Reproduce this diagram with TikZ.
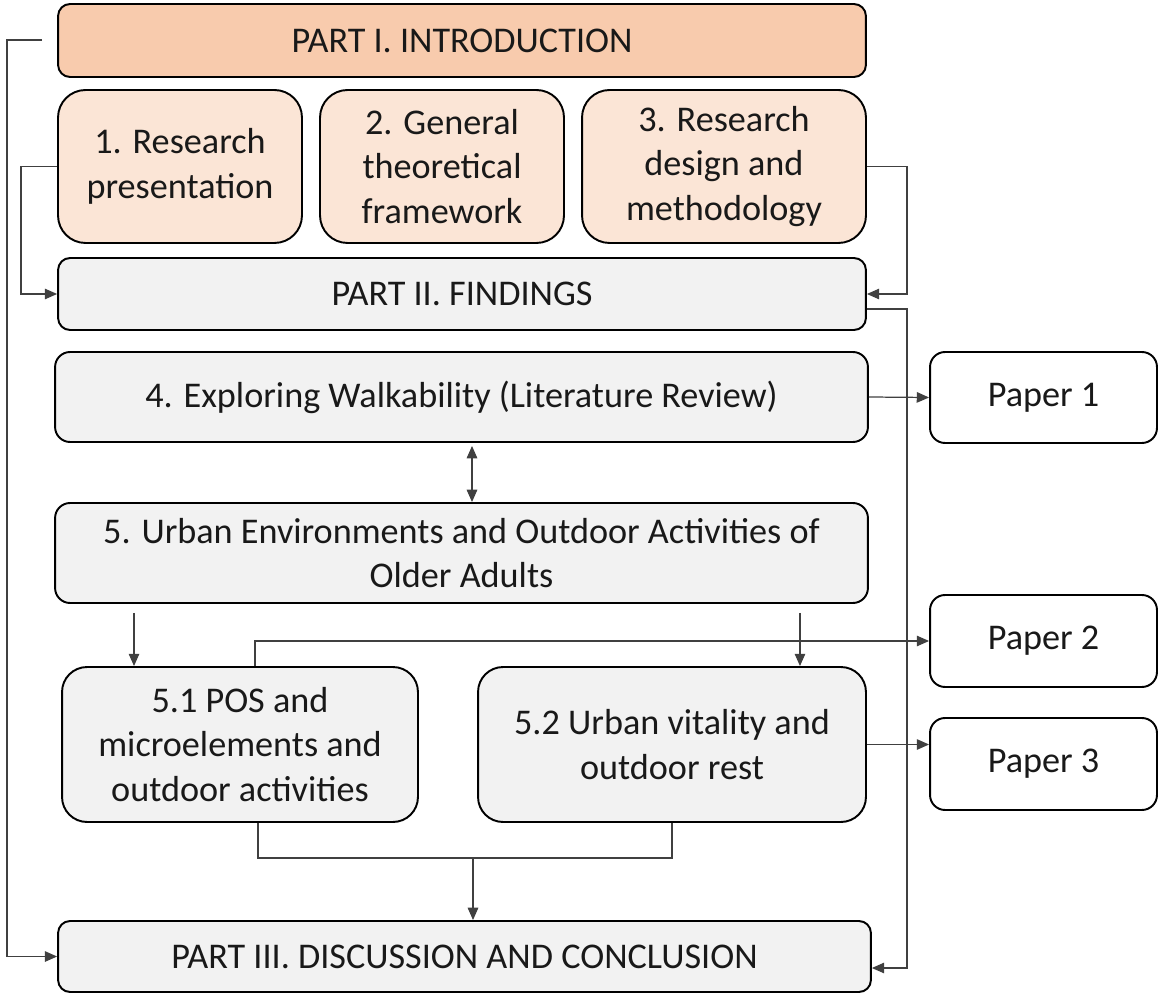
\documentclass[tikz,border=0pt]{standalone}
\usepackage{fontspec}
\setmainfont{Carlito}
\usepackage{tikz}
\usetikzlibrary{arrows.meta,calc}
\definecolor{peach}{HTML}{F8CBAD}
\definecolor{lightpeach}{HTML}{FBE5D6}
\definecolor{lightgrey}{HTML}{F2F2F2}
\definecolor{linegrey}{HTML}{404040}

\begin{document}
\begin{tikzpicture}[x = 0.02cm, y = -0.02cm,
    box/.style = {draw = black, line width = 1.1pt, align = center, inner sep = 0pt,
        font = \fontsize{20.6}{25.3}\selectfont, text = black!90},
    link/.style = {draw = linegrey, line width = 0.7pt},
    arr/.style = {link, -{Triangle[length = 7pt, width = 6pt]}}]
    \useasboundingbox (0, 0) rectangle (1159, 996);
    % PART I
    \node[box, fill = peach, rounded corners = 0.24cm, minimum width = 16.16cm, minimum height = 1.46cm] (part1) at (462, 40.5) {PART I. INTRODUCTION};
    \node[box, fill = lightpeach, rounded corners = 0.55cm, minimum width = 4.88cm, minimum height = 3.06cm] (res1) at (180, 166.5) {1. Research\\presentation};
    \node[box, fill = lightpeach, rounded corners = 0.55cm, minimum width = 4.88cm, minimum height = 3.06cm] (res2) at (442, 166.5) {2. General\\theoretical\\framework};
    \node[box, fill = lightpeach, rounded corners = 0.55cm, minimum width = 5.68cm, minimum height = 3.06cm] (res3) at (724, 166.5) {3. Research\\design and\\methodology};
    % PART II
    \node[box, fill = lightgrey, rounded corners = 0.24cm, minimum width = 16.16cm, minimum height = 1.44cm] (part2) at (462, 294) {PART II. FINDINGS};
    \node[box, fill = lightgrey, rounded corners = 0.3cm, minimum width = 16.26cm, minimum height = 1.80cm] (ch4) at (461.5, 397) {4. Exploring Walkability (Literature Review)};
    \node[box, fill = lightgrey, rounded corners = 0.3cm, minimum width = 16.26cm, minimum height = 2.0cm] (ch5) at (461.5, 553) {5. Urban Environments and Outdoor Activities of\\Older Adults};
    \node[box, fill = lightgrey, rounded corners = 0.5cm, minimum width = 7.12cm, minimum height = 3.10cm] (sec51) at (240, 744.5) {5.1 POS and\\microelements and\\outdoor activities};
    \node[box, fill = lightgrey, rounded corners = 0.5cm, minimum width = 7.76cm, minimum height = 3.10cm] (sec52) at (672, 744.5) {5.2 Urban vitality and\\outdoor rest};
    % PART III
    \node[box, fill = lightgrey, rounded corners = 0.24cm, minimum width = 16.26cm, minimum height = 1.42cm] (part3) at (464.5, 956.5) {PART III. DISCUSSION AND CONCLUSION};
    % PAPERS
    \node[box, fill = white, rounded corners = 0.3cm, minimum width = 4.54cm, minimum height = 1.82cm] (paper1) at (1043.5, 397.5) {Paper 1};
    \node[box, fill = white, rounded corners = 0.3cm, minimum width = 4.54cm, minimum height = 1.84cm] (paper2) at (1043.5, 641) {Paper 2};
    \node[box, fill = white, rounded corners = 0.3cm, minimum width = 4.54cm, minimum height = 1.84cm] (paper3) at (1043.5, 764) {Paper 3};
    % CONNECTORS
    \coordinate (loop) at (42, 40);
    \draw[arr] (loop) -- ++(-35, 0) |- (part3.west);
    \draw[arr] (res1.west) -- ++(-36, 0) |- (part2.west);
    \draw[arr] (res3.east) -- ++(40, 0) |- (part2.east);
    \draw[arr] ($(part2.east) + (0, 15)$) -- ++(40, 0) |- ($(part3.east) + (0, 11.5)$);
    \draw[arr] (ch4.east) -- (paper1.west);
    \draw[link, {Triangle[length = 7pt, width = 6pt]}-{Triangle[length = 7pt, width = 6pt]}, shorten < = 0.06cm] ([xshift = 0.21cm]ch4.south) -- ([xshift = 0.21cm]ch5.north);
    \draw[arr, shorten < = 0.18cm] ([xshift = -2.12cm]sec51.north |- ch5.south) -- ([xshift = -2.12cm]sec51.north);
    \draw[arr, shorten < = 0.18cm] ([xshift = 2.56cm]sec52.north |- ch5.south) -- ([xshift = 2.56cm]sec52.north);
    \draw[arr] ([xshift = 0.3cm]sec51.north) |- (paper2.west);
    \draw[arr] (sec52.east) -- (sec52.east -| paper3.west);
    \draw[link] ([xshift = 0.36cm]sec51.south) -- ++(0, 35) coordinate (merge) -| (sec52.south);
    \coordinate (join) at ($(merge) + (215, 0)$);
    \draw[arr] (join) -- (join |- part3.north);
\end{tikzpicture}
\end{document}
